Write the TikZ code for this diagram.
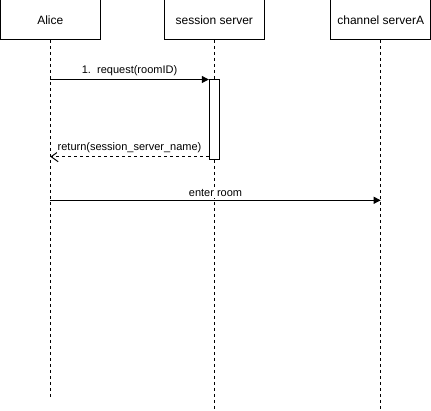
\documentclass[tikz,border=0pt]{standalone}
\usepackage{fontspec}
\setmainfont{Liberation Sans}
\usetikzlibrary{positioning,arrows.meta}

\tikzset{
    lifebox/.style={draw, line width=1pt, fill=white, minimum width=100pt, minimum height=40pt,
        font=\fontsize{12}{14}\selectfont},
    lifeline/.style={line width=1pt, dash pattern=on 3pt off 3pt},
    activation/.style={draw, line width=1pt, fill=white, minimum width=10pt, minimum height=80pt, inner sep=0pt},
    msgline/.style={line width=1pt, -{Triangle[length=7pt,width=7pt]}},
    replyline/.style={line width=1pt, dash pattern=on 3pt off 3pt, -{Straight Barb[length=7pt,width=10pt]}},
    msglabel/.style={font=\fontsize{11}{13}\selectfont, fill=white, inner sep=1pt, yshift=2pt}
}

\begin{document}
\begin{tikzpicture}[x=1pt, y=-1pt]

\useasboundingbox (0,0) rectangle (431,411);

% Lifeline ends
\coordinate (aliceEnd) at (50.3,397.5);
\coordinate (sessionEnd) at (214.3,411);
\coordinate (channelEnd) at (380.3,411);

% Lifelines
\draw[lifeline] (50.3,40) -- (aliceEnd);
\draw[lifeline] (214.3,40) -- (sessionEnd);
\draw[lifeline] (380.3,40) -- (channelEnd);

% Participants
\node[lifebox] (alice) at (50.3,20) {Alice};
\node[lifebox] (session) at (214.3,20) {session server};
\node[lifebox] (channel) at (380.7,20) {channel serverA};

% Activation of session server
\node[activation] (act) at (214.3,120) {};

% Message anchor points on Alice's lifeline
\coordinate (aliceReq) at (alice |- act.north);
\coordinate (aliceRet) at (50.3,156.7);
\coordinate (aliceEnter) at (50.3,200.3);
\coordinate (channelEnter) at (channel |- aliceEnter);

% Messages
\draw[msgline] (aliceReq) -- node[msglabel, above] (reqLabel) {1.\ \ request(roomID)} (act.north west);
\draw[replyline] (act.west |- aliceRet) -- node[msglabel, above] (retLabel) {return(session\_server\_name)} (aliceRet);
\draw[msgline] (aliceEnter) -- node[msglabel, above] (enterLabel) {enter room} (channelEnter);

\end{tikzpicture}
\end{document}
